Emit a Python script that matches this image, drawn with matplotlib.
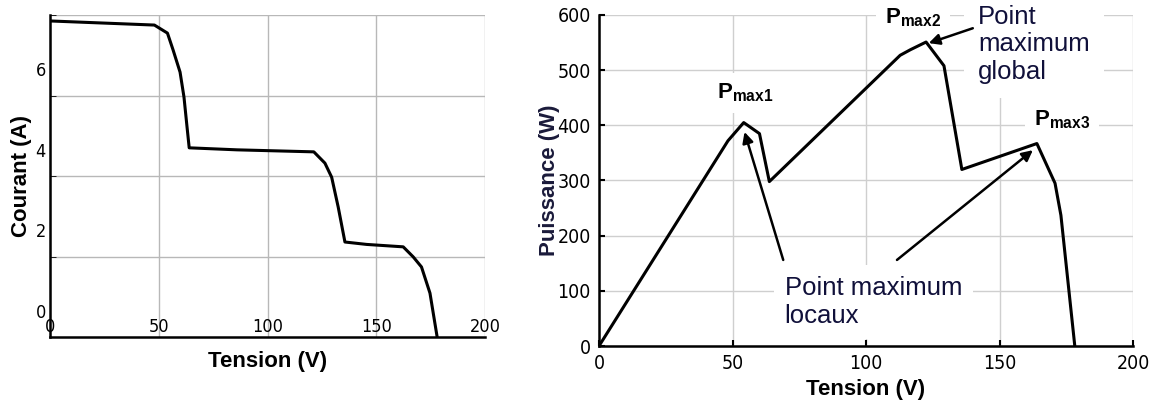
import numpy as np
import matplotlib.pyplot as plt

plt.rcParams['font.family'] = ['Liberation Sans', 'DejaVu Sans']
plt.rcParams['mathtext.fontset'] = 'custom'
plt.rcParams['mathtext.rm'] = 'Liberation Sans'
plt.rcParams['mathtext.bf'] = 'Liberation Sans:bold'

# courbe I-V
iv_tension = [0, 1, 48, 54, 56.6, 59.8, 61.6, 63, 64, 86, 121.3, 126.4, 129.5,
              132.5, 135.6, 145.6, 162.4, 167, 170.8, 174.7, 178]
iv_courant = [7.2, 7.2, 7.1, 6.9, 6.48, 5.93, 5.31, 4.57, 4.05, 4.0, 3.95, 3.67,
              3.32, 2.58, 1.71, 1.65, 1.59, 1.34, 1.09, 0.44, -0.65]

# courbe P-V
pv_tension = [0, 48.3, 54.2, 60.1, 63.8, 112.8, 116.6, 122.5, 129.2, 135.9,
              164, 170.8, 173, 178.2]
pv_puissance = [0, 372, 405, 385, 298, 527, 537, 551, 508, 320, 367, 295, 237, 0]

x_ticks = [0, 50, 100, 150, 200]
i_ticks = [0, 2, 4, 6]
i_grid = [1.35, 3.35, 5.35, 7.35]
p_ticks = [0, 100, 200, 300, 400, 500, 600]

# pics et fleches (position du texte, pointe de fleche)
pics = ['max1', 'max2', 'max3']
pics_pos = [(54.7, 459), (117.6, 595), (173.4, 410)]
fleche_global = ((140, 576), (123.5, 549))
fleches_locaux = [((69, 156), (54.5, 388)), ((111.6, 156), (162.5, 355))]

fig = plt.figure(figsize=(11.51, 4.05), dpi=100)

def ticks_etroits(ax, taille):
    # chiffres etroits comme sur l'original
    for lab in ax.get_xticklabels() + ax.get_yticklabels():
        lab.set_family('DejaVu Sans')
        lab.set_fontstretch('condensed')
        lab.set_fontsize(taille)

# ---- panneau gauche : courant
ax1 = fig.add_axes([50/1151, 68/405, 435/1151, 322/405])
ax1.plot(iv_tension, iv_courant, color='k', lw=2.2, zorder=3)
ax1.set_xlim(0, 200)
ax1.set_ylim(-0.65, 7.35)
ax1.set_xticks(x_ticks)
ax1.set_yticks(i_ticks)
ax1.set_yticks(i_grid, minor=True)
ax1.grid(True, axis='x', which='major', color='#b8b8b8', lw=1)
ax1.grid(True, axis='y', which='minor', color='#b8b8b8', lw=1)
ax1.set_axisbelow(True)
ax1.tick_params(axis='y', which='major', length=0, pad=3)
ax1.tick_params(axis='y', which='minor', direction='in', length=4)
ax1.tick_params(axis='x', which='major', length=0, pad=-14)
ticks_etroits(ax1, 13)
for s in ['top', 'right']:
    ax1.spines[s].set_visible(False)
for s in ['left', 'bottom']:
    ax1.spines[s].set_linewidth(1.8)
ax1.set_xlabel('Tension (V)', fontsize=16, fontweight='bold')
ax1.set_ylabel('Courant (A)', fontsize=16, fontweight='bold')
ax1.xaxis.set_label_coords(0.5, -0.045)
ax1.yaxis.set_label_coords(-0.042, 0.5)

# ---- panneau droit : puissance
ax2 = fig.add_axes([599/1151, 59/405, 534/1151, 331/405])
ax2.plot(pv_tension, pv_puissance, color='k', lw=2.2, zorder=3)
ax2.set_xlim(0, 200)
ax2.set_ylim(0, 600)
ax2.set_xticks(x_ticks)
ax2.set_yticks(p_ticks)
ax2.grid(True, color='#cfcfcf', lw=1)
ax2.set_axisbelow(True)
ax2.tick_params(direction='in', length=4, width=1.5, pad=6)
ticks_etroits(ax2, 14)
for s in ['top', 'right']:
    ax2.spines[s].set_visible(False)
for s in ['left', 'bottom']:
    ax2.spines[s].set_linewidth(1.8)
ax2.set_xlabel('Tension (V)', fontsize=16, fontweight='bold')
ax2.set_ylabel('Puissance (W)', fontsize=16, fontweight='bold', color='#1a1a3a')
ax2.xaxis.set_label_coords(0.5, -0.1)
ax2.yaxis.set_label_coords(-0.073, 0.5)

box = dict(facecolor='white', edgecolor='none', pad=6)
for nom, (vx, py) in zip(pics, pics_pos):
    ax2.text(vx, py, r'$\mathbf{P}_{\mathbf{%s}}$' % nom, fontsize=16,
             ha='center', va='center', bbox=box, zorder=2)

ax2.text(142, 619, 'Point\nmaximum\nglobal', fontsize=18.5, color='#10103a',
         ha='left', va='top', linespacing=1.2,
         bbox=dict(facecolor='white', edgecolor='none', pad=10), zorder=2)
ax2.text(69.5, 80, 'Point maximum\nlocaux', fontsize=18.5, color='#10103a',
         ha='left', va='center', linespacing=1.2,
         bbox=dict(facecolor='white', edgecolor='none', pad=8), zorder=2)

fleche = dict(arrowstyle='-|>', color='k', lw=1.8, mutation_scale=16,
              shrinkA=0, shrinkB=0)
ax2.annotate('', xy=fleche_global[1], xytext=fleche_global[0],
             arrowprops=fleche, zorder=4)
for queue, tete in fleches_locaux:
    ax2.annotate('', xy=tete, xytext=queue, arrowprops=fleche, zorder=4)

fig.savefig('out.png', dpi=100)
